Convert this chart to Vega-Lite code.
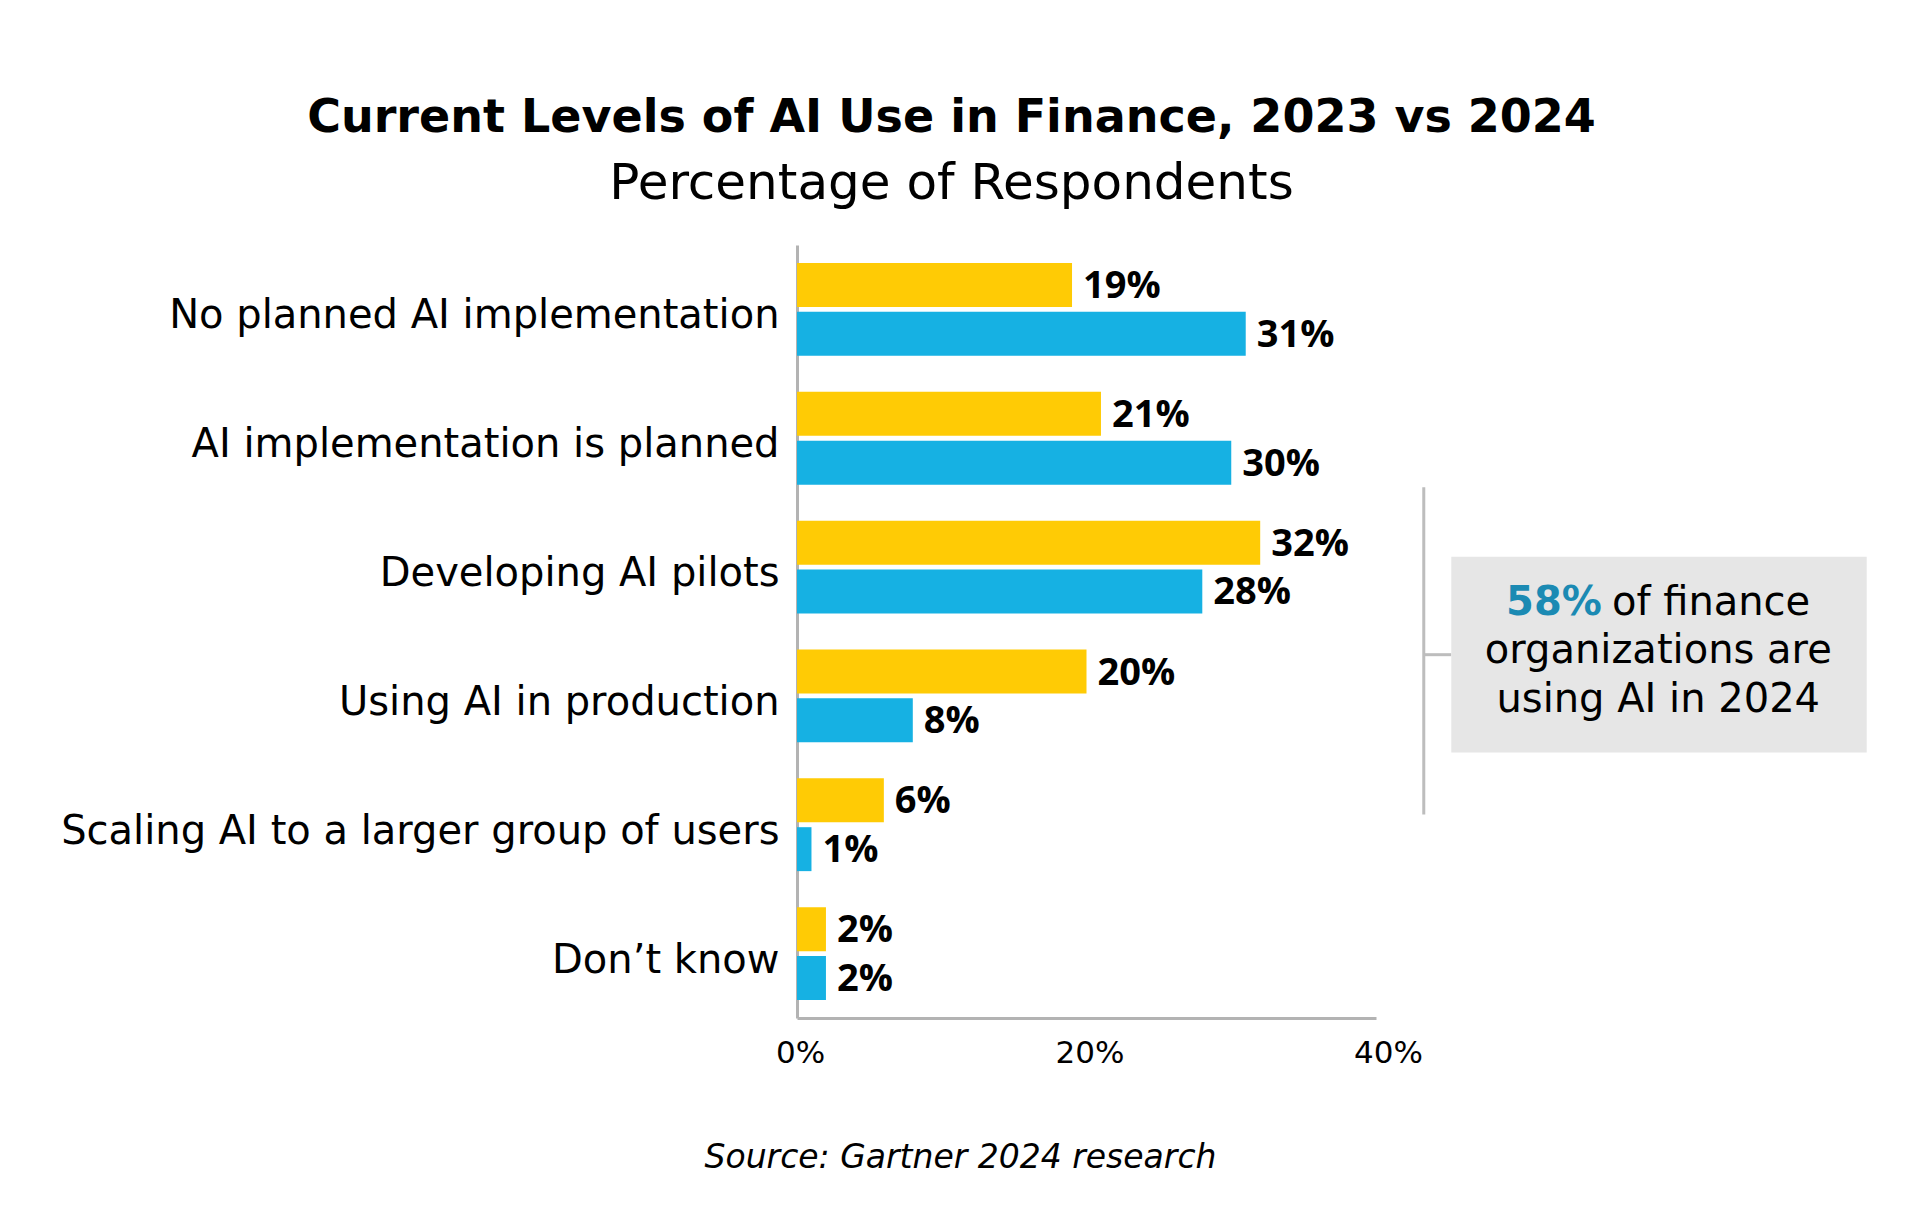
{
  "$schema": "https://vega.github.io/schema/vega-lite/v6.json",
  "width": 579,
  "height": 773,
  "autosize": {"type": "none"},
  "padding": {"left": 797, "top": 245, "right": 544, "bottom": 213},
  "background": "white",
  "title": {
    "text": "Current Levels of AI Use in Finance, 2023 vs 2024",
    "subtitle": "Percentage of Respondents",
    "frame": "group",
    "anchor": "middle",
    "dx": -135,
    "offset": 35,
    "font": "DejaVu Sans",
    "fontSize": 46,
    "fontWeight": "bold",
    "color": "#000000",
    "subtitleFont": "DejaVu Sans",
    "subtitleFontSize": 50,
    "subtitleColor": "#000000",
    "subtitlePadding": 17
  },
  "layer": [
    {
      "data": {
        "values": [
          {"category": "No planned AI implementation", "year": "2024", "value": 19},
          {"category": "No planned AI implementation", "year": "2023", "value": 31},
          {"category": "AI implementation is planned", "year": "2024", "value": 21},
          {"category": "AI implementation is planned", "year": "2023", "value": 30},
          {"category": "Developing AI pilots", "year": "2024", "value": 32},
          {"category": "Developing AI pilots", "year": "2023", "value": 28},
          {"category": "Using AI in production", "year": "2024", "value": 20},
          {"category": "Using AI in production", "year": "2023", "value": 8},
          {"category": "Scaling AI to a larger group of users", "year": "2024", "value": 6},
          {"category": "Scaling AI to a larger group of users", "year": "2023", "value": 1},
          {"category": "Don’t know", "year": "2024", "value": 2},
          {"category": "Don’t know", "year": "2023", "value": 2}
        ]
      },
      "encoding": {
        "y": {
          "field": "category",
          "type": "nominal",
          "sort": null,
          "scale": {"paddingInner": 0.28, "paddingOuter": 0.14},
          "axis": {
            "title": null,
            "ticks": false,
            "tickSize": 0,
            "labelPadding": 18,
            "labelOffset": 7,
            "labelFont": "DejaVu Sans",
            "labelFontSize": 40,
            "labelColor": "#000000",
            "labelLimit": 0,
            "domainColor": "#B3B3B3",
            "domainWidth": 3
          }
        },
        "yOffset": {
          "field": "year",
          "type": "nominal",
          "sort": ["2024", "2023"],
          "scale": {"paddingInner": 0.1, "paddingOuter": 0}
        },
        "x": {
          "field": "value",
          "type": "quantitative",
          "scale": {"domain": [0, 40], "nice": false},
          "axis": {
            "values": [0, 20, 40],
            "labelExpr": "datum.value + '%'",
            "grid": false,
            "ticks": false,
            "tickSize": 0,
            "labelPadding": 20,
            "labelOffset": {"condition": {"test": "datum.value == 40", "value": 12}, "value": 3},
            "labelFont": "DejaVu Sans",
            "labelFontSize": 31,
            "labelColor": "#000000",
            "labelFlush": false,
            "domainColor": "#B3B3B3",
            "domainWidth": 3,
            "title": "Source: Gartner 2024 research",
            "titleFont": "DejaVu Sans",
            "titleFontSize": 33,
            "titleFontStyle": "italic",
            "titleFontWeight": "normal",
            "titleColor": "#000000",
            "titleX": 163,
            "titleY": 139,
            "titleAlign": "center",
            "titleBaseline": "middle"
          }
        }
      },
      "layer": [
        {
          "mark": {"type": "bar"},
          "encoding": {
            "color": {
              "field": "year",
              "type": "nominal",
              "scale": {"domain": ["2024", "2023"], "range": ["#FFCB05", "#16B1E3"]},
              "legend": null
            }
          }
        },
        {
          "transform": [{"calculate": "datum.value + '%'", "as": "label"}],
          "mark": {
            "type": "text",
            "align": "left",
            "baseline": "middle",
            "dx": 11,
            "dy": 2,
            "font": "Open Sans",
            "fontSize": 38,
            "fontWeight": "bold",
            "color": "#000000"
          },
          "encoding": {"text": {"field": "label"}}
        }
      ]
    },
    {
      "encoding": {
        "x": {"field": "x", "type": "quantitative", "scale": {"domain": [0, 40], "nice": false}},
        "y": {"field": "y", "type": "quantitative", "scale": {"domain": [0, 6], "reverse": true, "nice": false, "zero": false}, "axis": null}
      },
      "layer": [
        {
          "data": {
            "values": [
              {"x": 43.3, "x2": 43.3, "y": 1.88, "y2": 4.42},
              {"x": 43.3, "x2": 45.2, "y": 3.18, "y2": 3.18}
            ]
          },
          "mark": {"type": "rule", "color": "#BDBDBD", "strokeWidth": 3},
          "encoding": {"x2": {"field": "x2"}, "y2": {"field": "y2"}}
        },
        {
          "data": {"values": [{"x": 45.2, "x2": 73.9, "y": 2.42, "y2": 3.94}]},
          "mark": {"type": "rect", "color": "#E6E6E6"},
          "encoding": {"x2": {"field": "x2"}, "y2": {"field": "y2"}}
        },
        {
          "data": {
            "values": [
              {"x": 59.5, "y": 3.15, "text": "organizations are"},
              {"x": 59.5, "y": 3.53, "text": "using AI in 2024"}
            ]
          },
          "mark": {"type": "text", "align": "center", "baseline": "middle", "font": "DejaVu Sans", "fontSize": 40, "color": "#000000"},
          "encoding": {"text": {"field": "text"}}
        },
        {
          "data": {"values": [{"x": 56.3, "y": 2.78, "text": "of finance"}]},
          "mark": {"type": "text", "align": "left", "baseline": "middle", "font": "DejaVu Sans", "fontSize": 40, "color": "#000000"},
          "encoding": {"text": {"field": "text"}}
        },
        {
          "data": {"values": [{"x": 55.6, "y": 2.78, "text": "58%"}]},
          "mark": {"type": "text", "align": "right", "baseline": "middle", "font": "DejaVu Sans", "fontSize": 40, "fontWeight": "bold", "color": "#1B8AB3"},
          "encoding": {"text": {"field": "text"}}
        }
      ]
    }
  ],
  "resolve": {"scale": {"y": "independent"}},
  "config": {"view": {"stroke": null}}
}
